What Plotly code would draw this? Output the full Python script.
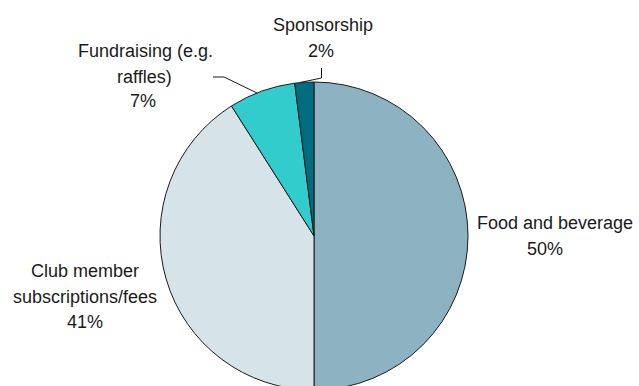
import plotly.graph_objects as go

# Income sources and their shares (%)
categories = ["Food and beverage", "Club member subscriptions/fees",
              "Fundraising (e.g. raffles)", "Sponsorship"]
shares = [50, 41, 7, 2]
colors = ["#8DB3C2", "#D6E4E9", "#33CCCC", "#006C80"]

# label lines for each slice (name lines; the percentage is appended from the data)
label_lines = [["Food and beverage"],
               ["Club member", "subscriptions/fees"],
               ["Fundraising (e.g.", "raffles)"],
               ["Sponsorship"]]

W, H = 639, 400


def px(x):
    return x / W


def py(y):
    return 1 - y / H


# pie box in pixels: centre (314, 236), radius 154
cx, cy, r = 314, 236, 154

fig = go.Figure(go.Pie(
    labels=categories,
    values=shares,
    sort=False,
    direction="clockwise",
    rotation=0,
    marker=dict(colors=colors, line=dict(color="#1a1a1a", width=1)),
    textinfo="none",
    hoverinfo="label+percent",
    showlegend=False,
    domain=dict(x=[px(cx - r), px(cx + r)], y=[py(cy + r), py(cy - r)]),
))

# label placement (pixel centres of each text line)
line_pos = [
    [(555, 222.5), (545, 249)],
    [(85, 270.5), (85, 296.5), (84.5, 321.5)],
    [(145.5, 51), (144.5, 77), (142.5, 101.5)],
    [(322.5, 24.5), (321, 51)],
]

annotations = []
for lines, share, positions in zip(label_lines, shares, line_pos):
    texts = lines + [f"{share}%"]
    for t, (x, y) in zip(texts, positions):
        annotations.append(dict(
            text=t, x=px(x), y=py(y), xref="paper", yref="paper",
            xanchor="center", yanchor="middle", showarrow=False,
            font=dict(family="Liberation Sans, Arial, sans-serif",
                      size=18, color="#1a1a1a"),
        ))

# leader lines for the two small slices
leaders = [
    [(213, 77), (224, 77), (257, 93)],
    [(321.5, 68), (321.5, 78), (300, 82.5)],
]
shapes = []
for pts in leaders:
    path = "M " + " L ".join(f"{px(x)},{py(y)}" for x, y in pts)
    shapes.append(dict(type="path", path=path, xref="paper", yref="paper",
                       line=dict(color="#1a1a1a", width=1)))

fig.update_layout(
    width=W, height=H,
    margin=dict(l=0, r=0, t=0, b=0),
    paper_bgcolor="white",
    plot_bgcolor="white",
    annotations=annotations,
    shapes=shapes,
)

fig.write_html(
    "out.html",
    post_script=("document.documentElement.style.overflow='hidden';"
                 "document.body.style.overflow='hidden';"
                 "document.body.style.margin='0';"),
)
